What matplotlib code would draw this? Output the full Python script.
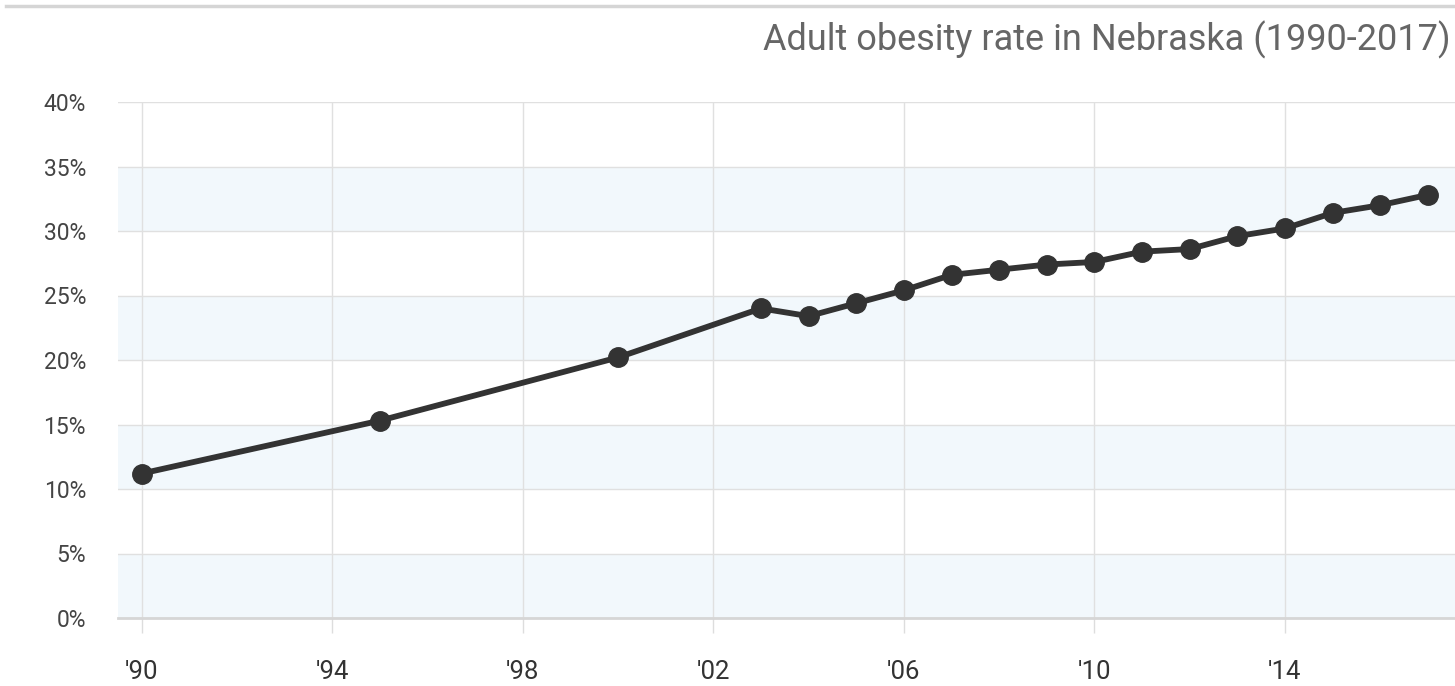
import matplotlib.pyplot as plt
from matplotlib.lines import Line2D
from matplotlib.ticker import FuncFormatter

# obesity rate (%)
years = [1990, 1995, 2000, 2003, 2004, 2005, 2006, 2007, 2008, 2009,
         2010, 2011, 2012, 2013, 2014, 2015, 2016, 2017]
rates = [11.2, 15.3, 20.2, 24.0, 23.4, 24.4, 25.4, 26.6, 27.0, 27.4,
         27.6, 28.4, 28.6, 29.6, 30.2, 31.4, 32.0, 32.8]
xticks = [1990, 1994, 1998, 2002, 2006, 2010, 2014]
yticks = [0, 5, 10, 15, 20, 25, 30, 35, 40]
title = "Adult obesity rate in Nebraska (1990-2017)"

plt.rcParams['font.family'] = ['Roboto', 'DejaVu Sans']

fig = plt.figure(figsize=(14.55, 6.86), dpi=100)
ax = fig.add_axes([118 / 1455, 1 - 618 / 686, 1 - 118 / 1455, (618 - 102) / 686])

# alternating bands
for lo in range(0, 40, 10):
    ax.axhspan(lo, lo + 5, color='#f2f8fc', zorder=0, lw=0)

ax.plot(years, rates, color='#333333', lw=4.2, marker='o', ms=14,
        solid_capstyle='round', zorder=3, clip_on=False)

ax.set_xlim(1989.5, 2017.57)
ax.set_ylim(0, 40)
ax.set_xticks(xticks)
ax.set_xticklabels(["'" + str(y)[2:] for y in xticks])
ax.set_yticks(yticks)
ax.yaxis.set_major_formatter(FuncFormatter(lambda v, p: "%d%%" % v))

ax.grid(True, color='#e0e0e0', lw=1)
ax.set_axisbelow(True)
for s in ['top', 'right', 'left']:
    ax.spines[s].set_visible(False)
ax.spines['bottom'].set_color('#d6d6d6')
ax.spines['bottom'].set_linewidth(2)

ax.tick_params(axis='x', length=11, width=1, color='#dddddd', pad=19,
               labelsize=18.5, labelcolor='#333333')
ax.tick_params(axis='y', length=0, pad=23, labelsize=16.5, labelcolor='#444444')

fig.text(0.997, 0.942, title, ha='right', va='center', fontsize=26, color='#666666')
fig.add_artist(Line2D([6 / 1455, 1], [1 - 6 / 686, 1 - 6 / 686], color='#d5d5d5', lw=2.5))

fig.savefig('out.png', dpi=100)
